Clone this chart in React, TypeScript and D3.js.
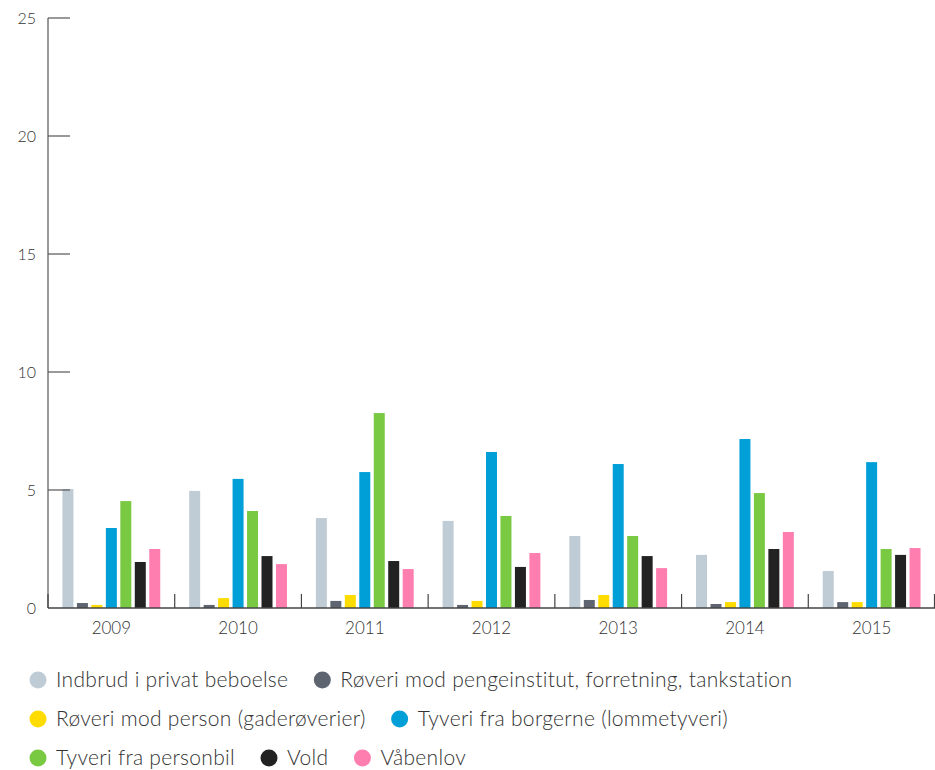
import React, { useLayoutEffect, useRef, useState } from "react";
import * as d3 from "d3";

const years = ["2009", "2010", "2011", "2012", "2013", "2014", "2015"];
const seriesNames = [
  "Indbrud i privat beboelse",
  "Røveri mod pengeinstitut, forretning, tankstation",
  "Røveri mod person (gaderøverier)",
  "Tyveri fra borgerne (lommetyveri)",
  "Tyveri fra personbil",
  "Vold",
  "Våbenlov",
];
const seriesColors = ["#bfccd5", "#5e6570", "#ffdc00", "#009fd7", "#7ac943", "#222222", "#ff7eb0"];
const indbrud = [5.04, 4.96, 3.81, 3.69, 3.05, 2.25, 1.57];
const roveriPenge = [0.21, 0.13, 0.3, 0.13, 0.34, 0.17, 0.25];
const roveriPerson = [0.13, 0.42, 0.55, 0.3, 0.55, 0.25, 0.25];
const tyveriBorgere = [3.39, 5.47, 5.76, 6.61, 6.1, 7.16, 6.18];
const tyveriBil = [4.53, 4.11, 8.26, 3.9, 3.05, 4.87, 2.5];
const vold = [1.95, 2.2, 1.99, 1.74, 2.2, 2.5, 2.25];
const vabenlov = [2.5, 1.86, 1.65, 2.33, 1.69, 3.22, 2.54];
const seriesValues = [indbrud, roveriPenge, roveriPerson, tyveriBorgere, tyveriBil, vold, vabenlov];
const yTicks = [0, 5, 10, 15, 20, 25];
const legendRows = [[0, 1], [2, 3], [4, 5, 6]];

const W = 935;
const H = 770;
const left = 48;
const right = 935;
const top = 18;
const bottom = 608;
const FONT = "Lato, 'Open Sans', sans-serif";

export default function App() {
  const x0 = d3.scaleBand<string>().domain(years).range([left, right]).paddingInner(0).paddingOuter(0);
  const x1 = d3
    .scaleBand<number>()
    .domain(d3.range(seriesNames.length))
    .range([0, x0.bandwidth()])
    .paddingInner(0.24)
    .paddingOuter(1.0);
  const y = d3.scaleLinear().domain([0, 25]).range([bottom, top]);

  const legendRef = useRef<SVGGElement>(null);
  const [widths, setWidths] = useState<number[]>(seriesNames.map(() => 200));
  useLayoutEffect(() => {
    if (!legendRef.current) return;
    const texts = Array.from(legendRef.current.querySelectorAll("text.lg")) as SVGTextElement[];
    const ws = texts.map((t) => t.getComputedTextLength());
    if (ws.some((w, k) => Math.abs(w - widths[k]) > 0.5)) setWidths(ws);
  });

  const legendItems: { i: number; cx: number; cy: number }[] = [];
  legendRows.forEach((row, r) => {
    let cx = 38;
    row.forEach((i) => {
      legendItems.push({ i, cx, cy: 680 + r * 39 });
      cx += 18 + widths[i] + 34;
    });
  });
  legendItems.sort((a, b) => a.i - b.i);

  return (
    <svg
      width={W}
      height={H}
      style={{ position: "absolute", left: 0, top: 0, background: "#fff" }}
      fontFamily={FONT}
    >
      {/* bars */}
      {years.map((yr, yi) => (
        <g key={yr} transform={`translate(${x0(yr)},0)`}>
          {seriesValues.map((vals, si) => (
            <rect
              key={si}
              x={x1(si)}
              y={y(vals[yi])}
              width={x1.bandwidth()}
              height={y(0) - y(vals[yi])}
              fill={seriesColors[si]}
            />
          ))}
        </g>
      ))}
      {/* y axis */}
      <line x1={left} x2={left} y1={top} y2={bottom} stroke="#555" strokeWidth={1.2} />
      {yTicks.map((t) => (
        <g key={t}>
          {t > 0 && <line x1={left} x2={left + 22} y1={y(t)} y2={y(t)} stroke="#555" strokeWidth={1.2} />}
          <text x={36} y={y(t)} dy="0.35em" textAnchor="end" fontSize={16} fill="#333" fontWeight={300}>
            {t}
          </text>
        </g>
      ))}
      {/* x axis */}
      <line x1={left} x2={right} y1={bottom} y2={bottom} stroke="#444" strokeWidth={1.5} />
      {years.map((yr) => (
        <g key={yr}>
          <line x1={x0(yr) as number} x2={x0(yr) as number} y1={bottom - 14} y2={bottom} stroke="#444" strokeWidth={1.2} />
          <text
            x={(x0(yr) as number) + x0.bandwidth() / 2}
            y={634}
            textAnchor="middle"
            fontSize={17}
            fill="#333"
            fontWeight={300}
          >
            {yr}
          </text>
        </g>
      ))}
      <line x1={right - 0.5} x2={right - 0.5} y1={bottom - 14} y2={bottom} stroke="#444" strokeWidth={1.2} />
      {/* legend */}
      <g ref={legendRef}>
        {legendItems.map(({ i, cx, cy }) => (
          <g key={i}>
            <circle cx={cx} cy={cy} r={8.5} fill={seriesColors[i]} />
            <text
              className="lg"
              x={cx + 18}
              y={cy}
              dy="0.35em"
              fontSize={21}
              letterSpacing={0.3}
              fill="#333"
              fontWeight={300}
            >
              {seriesNames[i]}
            </text>
          </g>
        ))}
      </g>
    </svg>
  );
}
